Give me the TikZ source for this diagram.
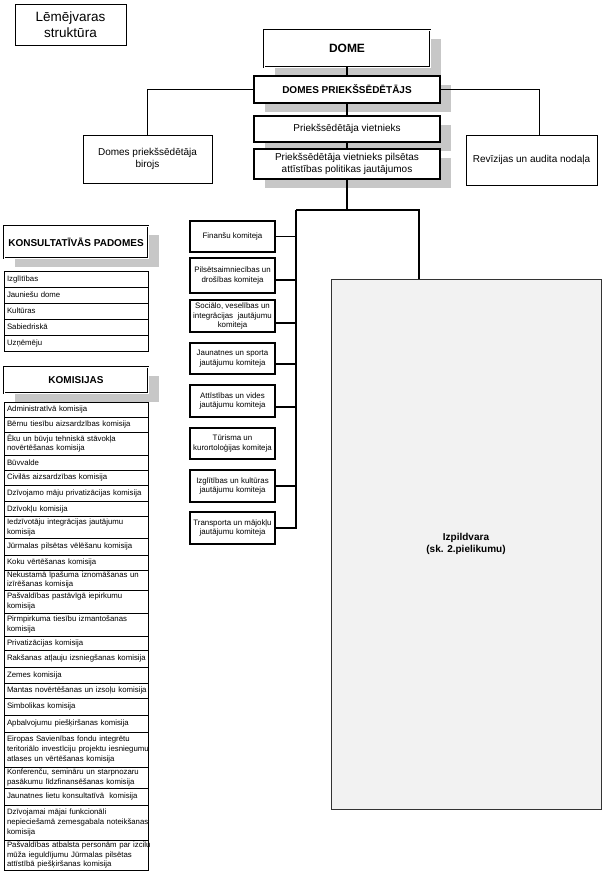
\documentclass[tikz,border=0pt]{standalone}
\usepackage{fontspec}
\setmainfont{Liberation Sans}
\usetikzlibrary{positioning,shadows}

\newcommand{\longline}[1]{\makebox[138pt][l]{#1}}

\begin{document}
\begin{tikzpicture}[x=1pt,y=-1pt,every node/.append style={align=center,inner sep=2pt,outer sep=0pt},
  line/.style={line width=1.1pt},
  headbox/.style={draw, fill=white, line width=1.6pt, font=\fontsize{10}{11.5}\selectfont,
    drop shadow={shadow xshift=11pt, shadow yshift=-9pt, fill=black!22, opacity=1}},
  dblbox/.style={headbox, line width=0.9pt, double, double distance=1pt, font=\bfseries\fontsize{10}{12}\selectfont},
  plainbox/.style={draw, fill=white, line width=0.8pt, font=\fontsize{10}{12}\selectfont},
  kom/.style={draw, fill=white, line width=1.1pt, minimum width=85pt, font=\fontsize{7.9}{9.8}\selectfont},
  row/.style={draw, line width=0.7pt, anchor=north, minimum width=144pt, text width=138pt, align=left,
    inner xsep=3pt, inner ysep=1pt, font=\fontsize{7.8}{9.6}\selectfont}]
    \useasboundingbox (0,0) rectangle (603,873);

    \node [plainbox, minimum width=111pt, minimum height=41pt, font=\fontsize{13.5}{15.5}\selectfont] (title) at (70.5,24.5) {Lēmējvaras\\struktūra};

    % vadiba
    \node [dblbox, minimum width=166pt, minimum height=37pt, font=\bfseries\fontsize{12}{14}\selectfont] (dome) at (347,48.5) {DOME};
    \node [headbox, minimum width=186pt, minimum height=27pt, font=\bfseries\fontsize{10}{12}\selectfont] (dpr) at (347,89.5) {DOMES PRIEKŠSĒDĒTĀJS};
    \node [headbox, minimum width=186pt, minimum height=26pt] (viet) at (347,129) {Priekšsēdētāja vietnieks};
    \node [headbox, minimum width=186pt, minimum height=30pt] (viet2) at (347,164) {Priekšsēdētāja vietnieks pilsētas\\attīstības politikas jautājumos};
    \node [plainbox, minimum width=129pt, minimum height=48pt] (biroj) at (147.5,159) {Domes priekšsēdētāja\\birojs};
    \node [plainbox, minimum width=131pt, minimum height=50pt] (rev) at (531.5,160) {Revīzijas un audita nodaļa};

    % komitejas
    \node [kom, minimum height=31pt] (fin) at (232.5,236.5) {Finanšu komiteja};
    \node [kom, minimum height=35pt, below=6pt of fin] (pil) {Pilsētsaimniecības un\\drošības komiteja};
    \node [kom, minimum height=32pt, below=7pt of pil] (soc) {Sociālo, veselības un\\integrācijas \ jautājumu\\komiteja};
    \node [kom, minimum height=31pt, below=11pt of soc] (jau) {Jaunatnes un sporta\\jautājumu komiteja};
    \node [kom, minimum height=32pt, below=11pt of jau] (att) {Attīstības un vides\\jautājumu komiteja};
    \node [kom, minimum height=31pt, below=11pt of att] (tur) {Tūrisma un\\kurortoloģijas komiteja};
    \node [kom, minimum height=32pt, below=11pt of tur] (izg) {Izglītības un kultūras\\jautājumu komiteja};
    \node [kom, minimum height=32pt, below=10pt of izg] (tra) {Transporta un mājokļu\\jautājumu komiteja};

    \node [draw=black!80, fill=black!5, line width=0.9pt, minimum width=270pt, minimum height=530pt,
      font=\bfseries\fontsize{10}{12}\selectfont,
      drop shadow={shadow xshift=1pt, shadow yshift=-1pt, fill=black!55, opacity=1}] (izp) at (466,544) {Izpildvara\\(sk. 2.pielikumu)};

    % konsultativas padomes
    \node [dblbox, minimum width=144pt, minimum height=32pt] (kons) at (76,242) {KONSULTATĪVĀS PADOMES};
    \node [row, minimum height=16pt] (p1) at (76,271) {Izglītības};
    \node [row, minimum height=16pt, below=0pt of p1] (p2) {Jauniešu dome};
    \node [row, minimum height=16pt, below=0pt of p2] (p3) {Kultūras};
    \node [row, minimum height=16pt, below=0pt of p3] (p4) {Sabiedriskā};
    \node [row, minimum height=16pt, below=0pt of p4] (p5) {Uzņēmēju};

    % komisijas
    \node [dblbox, minimum width=144pt, minimum height=26pt] (komis) at (76,380) {KOMISIJAS};
    \node [row, minimum height=15pt] (k1) at (76,402) {Administratīvā komisija};
    \node [row, minimum height=15pt, below=0pt of k1] (k2) {Bērnu tiesību aizsardzības komisija};
    \node [row, minimum height=23pt, below=0pt of k2] (k3) {Ēku un būvju tehniskā stāvokļa\\novērtēšanas komisija};
    \node [row, minimum height=15pt, below=0pt of k3] (k4) {Būvvalde};
    \node [row, minimum height=15pt, below=0pt of k4] (k5) {Civilās aizsardzības komisija};
    \node [row, minimum height=16.5pt, below=0pt of k5] (k6) {Dzīvojamo māju privatizācijas komisija};
    \node [row, minimum height=15pt, below=0pt of k6] (k7) {Dzīvokļu komisija};
    \node [row, minimum height=21.5pt, below=0pt of k7] (k8) {Iedzīvotāju integrācijas jautājumu\\komisija};
    \node [row, minimum height=17pt, below=0pt of k8] (k9) {Jūrmalas pilsētas vēlēšanu komisija};
    \node [row, minimum height=15pt, below=0pt of k9] (k10) {Koku vērtēšanas komisija};
    \node [row, minimum height=20pt, below=0pt of k10] (k11) {Nekustamā īpašuma iznomāšanas un\\izīrēšanas komisija};
    \node [row, minimum height=23pt, below=0pt of k11] (k12) {Pašvaldības pastāvīgā iepirkumu\\komisija};
    \node [row, minimum height=23pt, below=0pt of k12] (k13) {Pirmpirkuma tiesību izmantošanas\\komisija};
    \node [row, minimum height=14pt, below=0pt of k13] (k14) {Privatizācijas komisija};
    \node [row, minimum height=17pt, below=0pt of k14] (k15) {\longline{Rakšanas atļauju izsniegšanas komisija}};
    \node [row, minimum height=16pt, below=0pt of k15] (k16) {Zemes komisija};
    \node [row, minimum height=15pt, below=0pt of k16] (k17) {\longline{Mantas novērtēšanas un izsoļu komisija}};
    \node [row, minimum height=17pt, below=0pt of k17] (k18) {Simbolikas komisija};
    \node [row, minimum height=17pt, below=0pt of k18] (k19) {Apbalvojumu piešķiršanas komisija};
    \node [row, minimum height=35pt, below=0pt of k19] (k20) {Eiropas Savienības fondu integrētu\\\longline{teritoriālo investīciju projektu iesniegumu}\\atlases un vērtēšanas komisija};
    \node [row, minimum height=21pt, below=0pt of k20] (k21) {Konferenču, semināru un starpnozaru\\pasākumu līdzfinansēšanas komisija};
    \node [row, minimum height=17pt, below=0pt of k21] (k22) {Jaunatnes lietu konsultatīvā \ komisija};
    \node [row, minimum height=35pt, below=0pt of k22] (k23) {Dzīvojamai mājai funkcionāli\\\longline{nepieciešamā zemesgabala noteikšanas}\\komisija};
    \node [row, minimum height=30pt, below=0pt of k23] (k24) {\longline{Pašvaldības atbalsta personām par izcilu}\\mūža ieguldījumu Jūrmalas pilsētas\\attīstībā piešķiršanas komisija};

    \coordinate (bus) at (296,210);
    \draw[line] (dome.south) -- (dpr.north);
    \draw[line] (dpr.south) -- (viet.north);
    \draw[line] (viet.south) -- (viet2.north);
    \draw[line] (dpr.west) -| (biroj.north);
    \draw[line] (dpr.east) -| ([xshift=8pt]rev.north);
    \draw[line] (viet2.south) |- (bus);
    \draw[line] (bus) -| ([xshift=88pt]izp.north west);
    \draw[line] (bus) -- (bus |- tra.east);
    \draw[line] (fin.east) -| (bus);
    \draw[line] ([yshift=-4.5pt]pil.east) -| (bus);
    \draw[line] ([yshift=-7pt]soc.east) -| (bus);
    \draw[line] ([yshift=-5.5pt]jau.east) -| (bus);
    \draw[line] ([yshift=-6pt]att.east) -| (bus);
    \draw[line] (izg.east) -| (bus);
    \draw[line] (tra.east) -| (bus);
\end{tikzpicture}
\end{document}
